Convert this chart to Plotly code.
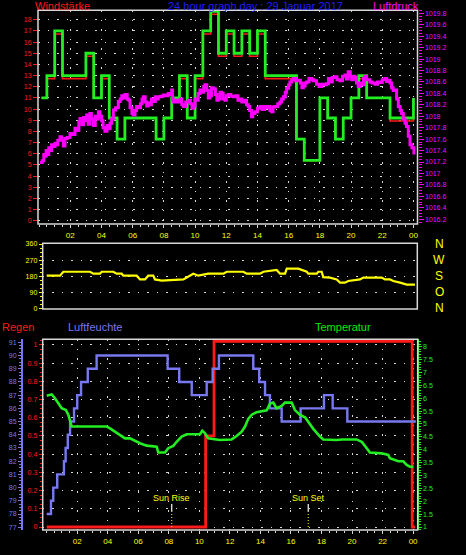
import plotly.graph_objects as go

W, H = 466, 555

# ---------------- data ----------------
# top panel: wind (Windstärke) half-hour steps, hours of day
wind_hours = [0.15, 0.5, 1.0, 1.5, 3.0, 3.5, 4.0, 4.5, 5.0, 5.5, 7.5, 8.0, 8.5, 9.0, 9.5,
              10.0, 10.5, 11.0, 11.5, 12.0, 12.5, 13.0, 13.5, 14.0, 14.5, 16.5, 17.0, 18.0,
              18.5, 19.0, 19.5, 20.0, 20.5, 21.0, 22.5, 24.0]
wind_gust = [11, 13, 17, 13, 15, 11, 13, 9.2, 7.3, 9.2, 7.3, 9.2, 11, 13, 9.2,
             13, 17, 18.75, 15, 17, 15, 17, 15, 17, 13, 7.3, 5.4, 11,
             9.2, 7.3, 9.2, 11, 13, 11, 9.2, 11]
wind_avg = [11, 12.73, 16.73, 12.73, 14.73, 11, 12.73, 9.2, 7.3, 9.2, 7.3, 9.2, 11, 12.73, 9.2,
            12.73, 16.73, 18.5, 14.73, 16.73, 14.73, 16.73, 14.73, 16.73, 12.73, 7.3, 5.4, 11,
            9.2, 7.3, 9.2, 11, 12.73, 11, 8.93, 11]

# top panel: pressure (Luftdruck, hPa)
press_hours = [0.06, 0.2, 0.3, 0.38, 0.45, 0.55, 0.62, 0.70, 0.8, 0.9, 1.02, 1.1, 1.2, 1.34, 1.45,
               1.55, 1.66, 1.8, 1.98, 2.1, 2.3, 2.45, 2.55, 2.62, 2.75, 2.85, 2.94, 3.05, 3.15,
               3.26, 3.35, 3.48, 3.6, 3.7, 3.80, 3.9, 4.01, 4.1, 4.22, 4.35, 4.45, 4.55, 4.65,
               4.76, 4.9, 5.08, 5.2, 5.3, 5.40, 5.5, 5.65, 5.75, 5.83, 5.95, 6.04, 6.15, 6.25,
               6.36, 6.5, 6.6, 6.68, 6.8, 6.9, 7.00, 7.1, 7.2, 7.32, 7.45, 7.55, 7.64, 7.8,
               7.96, 8.1, 8.28, 8.4, 8.50, 8.55, 8.60, 8.75, 8.92, 9.05, 9.15, 9.25, 9.4, 9.57,
               9.7, 9.80, 9.89, 10.0, 10.10, 10.2, 10.31, 10.45, 10.55, 10.63, 10.75, 10.85,
               10.95, 11.05, 11.17, 11.3, 11.40, 11.49, 11.6, 11.70, 11.8, 11.92, 12.0, 12.13,
               12.3, 12.45, 12.6, 12.75, 12.88, 13.0, 13.20, 13.30, 13.41, 13.5, 13.62, 13.7,
               13.84, 14.0, 14.16, 14.3, 14.45, 14.59, 14.7, 14.80, 14.91, 15.0, 15.12, 15.3,
               15.44, 15.55, 15.66, 15.78, 15.87, 16.0, 16.08, 16.2, 16.30, 16.45, 16.62, 16.75,
               16.85, 16.94, 17.05, 17.15, 17.3, 17.47, 17.6, 17.79, 17.95, 18.11, 18.3, 18.43,
               18.55, 18.65, 18.8, 18.97, 19.1, 19.29, 19.45, 19.61, 19.70, 19.82, 19.95, 20.04,
               20.15, 20.25, 20.35, 20.46, 20.58, 20.68, 20.8, 20.89, 21.0, 21.21, 21.35, 21.53,
               21.7, 21.85, 22.0, 22.17, 22.28, 22.39, 22.5, 22.60, 22.7, 22.81, 22.92, 23.03,
               23.15, 23.24, 23.35, 23.46, 23.55, 23.67, 23.78, 23.9, 24.03]
press_hpa = [1017.19, 1017.22, 1017.33, 1017.30, 1017.40, 1017.33, 1017.45, 1017.40, 1017.50, 1017.47,
             1017.53, 1017.50, 1017.58, 1017.64, 1017.58, 1017.48, 1017.61, 1017.63, 1017.70, 1017.68,
             1017.79, 1017.75, 1017.90, 1017.96, 1017.85, 1017.98, 1017.92, 1018.02, 1017.86, 1018.05,
             1017.95, 1017.84, 1018.00, 1017.95, 1018.08, 1018.00, 1017.92, 1017.80, 1017.74, 1017.84,
             1017.78, 1017.88, 1017.95, 1018.11, 1018.15, 1018.26, 1018.30, 1018.36, 1018.32, 1018.38,
             1018.30, 1018.28, 1018.15, 1018.05, 1018.02, 1018.10, 1018.17, 1018.15, 1018.22, 1018.30,
             1018.34, 1018.25, 1018.18, 1018.23, 1018.20, 1018.30, 1018.26, 1018.34, 1018.30, 1018.34,
             1018.35, 1018.37, 1018.36, 1018.40, 1018.38, 1018.46, 1018.30, 1018.25, 1018.28, 1018.25,
             1018.30, 1018.20, 1018.17, 1018.25, 1018.28, 1018.22, 1018.14, 1018.18, 1018.30, 1018.28,
             1018.40, 1018.46, 1018.42, 1018.52, 1018.55, 1018.45, 1018.32, 1018.36, 1018.50, 1018.48,
             1018.38, 1018.28, 1018.30, 1018.42, 1018.40, 1018.30, 1018.28, 1018.36, 1018.38, 1018.35,
             1018.34, 1018.36, 1018.28, 1018.30, 1018.25, 1018.28, 1018.20, 1018.17, 1018.10, 1017.99,
             1018.05, 1018.08, 1018.14, 1018.17, 1018.12, 1018.17, 1018.15, 1018.17, 1018.10, 1018.08,
             1018.16, 1018.17, 1018.22, 1018.25, 1018.30, 1018.34, 1018.42, 1018.49, 1018.55, 1018.60,
             1018.64, 1018.66, 1018.62, 1018.63, 1018.58, 1018.50, 1018.53, 1018.58, 1018.60, 1018.66,
             1018.64, 1018.62, 1018.56, 1018.52, 1018.56, 1018.55, 1018.57, 1018.66, 1018.60, 1018.68,
             1018.69, 1018.64, 1018.62, 1018.70, 1018.72, 1018.65, 1018.78, 1018.70, 1018.64, 1018.70,
             1018.68, 1018.58, 1018.52, 1018.58, 1018.55, 1018.66, 1018.70, 1018.64, 1018.60, 1018.58,
             1018.56, 1018.60, 1018.59, 1018.64, 1018.66, 1018.61, 1018.63, 1018.58, 1018.50, 1018.45,
             1018.46, 1018.30, 1018.17, 1018.10, 1018.05, 1017.95, 1017.88, 1017.82, 1017.65, 1017.50,
             1017.45, 1017.33]

# middle panel: wind direction (degrees)
dir_hours = [0.0, 0.87, 1.09, 2.84, 3.05, 3.49, 3.60, 4.36, 4.58, 4.91, 5.02, 5.89, 6.11, 6.44,
             6.65, 6.98, 7.09, 7.53, 8.95, 9.17, 9.60, 9.93, 10.58, 11.57, 11.79, 12.88, 13.10,
             13.97, 14.19, 15.06, 15.28, 15.61, 15.72, 16.48, 16.70, 17.03, 17.13, 17.68, 17.79,
             18.01, 18.11, 18.55, 18.99, 19.21, 19.53, 19.75, 20.52, 20.73, 21.94, 22.15, 22.48,
             22.70, 23.14, 23.58, 24.12]
dir_deg = [183, 183, 205, 205, 194, 194, 205, 205, 194, 194, 183, 183, 162, 162,
           183, 183, 162, 155, 162, 172, 194, 183, 194, 194, 205, 205, 194,
           194, 205, 215, 194, 194, 222, 222, 215, 205, 194, 194, 205,
           205, 175, 172, 162, 144, 144, 153, 162, 172, 172, 162, 162,
           153, 144, 133, 133]

# bottom panel: humidity (Luftfeuchte, %)
hum_hours = [0.0, 0.28, 0.43, 0.69, 1.13, 1.24, 1.38, 1.53, 1.79, 2.0, 2.25, 2.69, 3.27, 7.92,
             8.68, 9.50, 10.48, 10.87, 11.28, 13.53, 13.92, 14.30, 14.62, 15.39, 16.63, 18.16,
             18.73, 19.69, 24.18]
hum_pct = [78, 79, 80, 81, 82, 83, 84, 85, 86, 87, 88, 89, 90, 89,
           88, 87, 88, 89, 90, 89, 88, 87, 86, 85, 86, 87,
           86, 85, 85]

# bottom panel: rain (Regen, mm)
rain_hours = [0.0, 10.41, 10.96, 23.94, 24.12]
rain_mm = [0.0, 0.5, 1.02, 0.0, 0.0]

# bottom panel: temperature (°C)
temp_hours = [0.0, 0.33, 0.54, 0.76, 0.98, 1.26, 1.42, 1.64, 3.93, 4.15, 4.47, 4.80, 5.13, 5.46,
              5.78, 6.11, 6.55, 6.98, 7.20, 7.31, 7.75, 7.96, 8.29, 8.51, 8.84, 9.17, 9.60, 10.04,
              10.19, 10.37, 10.58, 11.35, 12.11, 12.44, 12.77, 12.99, 13.20, 13.43, 13.75, 14.41,
              14.62, 14.84, 15.06, 15.39, 15.61, 16.04, 16.26, 16.59, 16.92, 17.13, 17.46, 17.90,
              18.11, 18.99, 19.32, 20.30, 20.63, 20.84, 21.17, 21.94, 22.37, 22.48, 22.81, 23.03,
              23.35, 23.58, 23.79, 24.01]
temp_c = [6.10, 6.15, 6.0, 5.80, 5.61, 5.54, 5.35, 4.90, 4.90, 4.83, 4.70, 4.57, 4.44, 4.44,
          4.34, 4.25, 4.16, 4.12, 4.12, 3.89, 3.89, 4.06, 4.15, 4.31, 4.51, 4.60, 4.60, 4.60,
          4.74, 4.64, 4.44, 4.38, 4.40, 4.53, 4.70, 4.90, 5.20, 5.36, 5.46, 5.53,
          5.79, 5.83, 5.61, 5.70, 5.83, 5.83, 5.54, 5.35, 5.26, 5.07, 4.81, 4.51,
          4.40, 4.38, 4.40, 4.40, 4.31, 4.15, 3.89, 3.86, 3.80, 3.67, 3.61, 3.55,
          3.55, 3.41, 3.34, 3.34]

sun_events = ["Sun Rise", "Sun Set"]
sun_hours = [8.19, 17.13]

# tick labels
hour_ticks = [2, 4, 6, 8, 10, 12, 14, 16, 18, 20, 22, 24]
hour_labels = ["02", "04", "06", "08", "10", "12", "14", "16", "18", "20", "22", "00"]
wind_ticks = list(range(0, 19))
press_ticks = [round(1016.2 + 0.2 * i, 1) for i in range(19)]
dir_ticks = [0, 90, 180, 270, 360]
dir_letters = ["N", "O", "S", "W", "N"]
rain_ticks = [round(0.1 * i, 1) for i in range(11)]
hum_ticks = list(range(77, 92))
temp_ticks = [1 + 0.5 * i for i in range(15)]

# ---------------- layout helpers ----------------
def fx(px):
    return px / W

def fy(py):
    return 1 - py / H

FONT = "Liberation Sans, Arial, sans-serif"
RED = "#ff1a1a"
GREEN = "#22ee22"
MAG = "#ff00ff"
YEL = "#ffff00"
BLUE = "#7878f0"
TITLEBLUE = "#1f1fff"
GRID = "#d8d8d8"
DOTS = "1.5px,8px"

fig = go.Figure()

# top panel (red average underneath, green gust on top, pressure above all)
fig.add_trace(go.Scatter(x=wind_hours, y=wind_avg, xaxis="x", yaxis="y", mode="lines",
                         line=dict(color=RED, width=1.6, shape="hv"), hoverinfo="skip"))
fig.add_trace(go.Scatter(x=wind_hours, y=wind_gust, xaxis="x", yaxis="y2", mode="lines",
                         line=dict(color=GREEN, width=2.8, shape="hv"), hoverinfo="skip"))
fig.add_trace(go.Scatter(x=press_hours, y=press_hpa, xaxis="x", yaxis="y3", mode="lines",
                         line=dict(color=MAG, width=3, shape="hv"), hoverinfo="skip"))
# middle panel
fig.add_trace(go.Scatter(x=dir_hours, y=dir_deg, xaxis="x2", yaxis="y4", mode="lines",
                         line=dict(color=YEL, width=2.2), hoverinfo="skip"))
# bottom panel
fig.add_trace(go.Scatter(x=hum_hours, y=hum_pct, xaxis="x3", yaxis="y6", mode="lines",
                         line=dict(color=BLUE, width=2.4, shape="hv"), hoverinfo="skip"))
fig.add_trace(go.Scatter(x=temp_hours, y=temp_c, xaxis="x3", yaxis="y7", mode="lines",
                         line=dict(color=GREEN, width=2.6), hoverinfo="skip"))
fig.add_trace(go.Scatter(x=rain_hours, y=rain_mm, xaxis="x3", yaxis="y5", mode="lines",
                         line=dict(color=RED, width=2.8, shape="hv"), hoverinfo="skip"))

top_dom = [fy(224), fy(10.3)]
mid_dom = [fy(309), fy(243.3)]
bot_dom = [fy(530), fy(339.3)]

wind_rng = [-0.295, 18.85]
layout = dict(
    width=W, height=H, autosize=False, template="none",
    paper_bgcolor="black", plot_bgcolor="black",
    margin=dict(l=0, r=0, t=0, b=0), showlegend=False,
    font=dict(family=FONT, color=YEL, size=8),
    xaxis=dict(domain=[fx(38), fx(417.5)], range=[-0.07, 24.26], anchor="y",
               tickvals=hour_ticks, ticktext=hour_labels, ticks="outside", ticklen=3,
               tickcolor=GRID, tickfont=dict(color=YEL, size=8), showgrid=True,
               gridcolor=GRID, griddash=DOTS, gridwidth=1, zeroline=False,
               minor=dict(ticks="outside", ticklen=2, tickcolor=GRID, dtick=0.5, showgrid=False)),
    yaxis=dict(domain=top_dom, range=wind_rng, anchor="x", tickvals=wind_ticks,
               ticks="outside", ticklen=4, tickcolor=RED, tickfont=dict(color=RED, size=7),
               showgrid=True, gridcolor=GRID, griddash=DOTS, gridwidth=1, zeroline=False),
    yaxis2=dict(overlaying="y", anchor="x", range=wind_rng, visible=False),
    yaxis3=dict(overlaying="y", side="right", anchor="x", range=[1016.116, 1019.853],
                tickvals=press_ticks, ticktext=[f"{v:g}" for v in press_ticks],
                ticks="outside", ticklen=5, tickcolor=MAG, tickfont=dict(color=MAG, size=7),
                showgrid=False, zeroline=False,
                minor=dict(ticks="outside", ticklen=3, tickcolor=MAG, dtick=0.05, showgrid=False)),
    xaxis2=dict(domain=[fx(42.7), fx(417.3)], range=[-0.262, 24.27], anchor="y4",
                showticklabels=False, ticks="", showgrid=False, zeroline=False),
    yaxis4=dict(domain=mid_dom, range=[-3.4, 364], anchor="x2", tickvals=dir_ticks,
                ticks="outside", ticklen=3, tickcolor=YEL, tickfont=dict(color=YEL, size=7),
                showgrid=True, gridcolor=GRID, griddash=DOTS, gridwidth=1, zeroline=False,
                minor=dict(ticks="outside", ticklen=2, tickcolor=YEL, dtick=22.5, showgrid=False)),
    xaxis3=dict(domain=[fx(42.7), fx(417.7)], range=[-0.262, 24.30], anchor="y5",
                tickvals=hour_ticks, ticktext=hour_labels, ticks="outside", ticklen=3,
                tickcolor=GRID, tickfont=dict(color=YEL, size=8), showgrid=True,
                gridcolor=GRID, griddash=DOTS, gridwidth=1, zeroline=False,
                minor=dict(ticks="outside", ticklen=2, tickcolor=GRID, dtick=0.5, showgrid=False)),
    yaxis5=dict(domain=bot_dom, range=[-0.0165, 1.031], anchor="x3", tickvals=rain_ticks,
                ticktext=[f"{v:g}" for v in rain_ticks],
                ticks="outside", ticklen=3, tickcolor=RED, tickfont=dict(color=RED, size=7),
                showgrid=True, gridcolor=GRID, griddash=DOTS, gridwidth=1, zeroline=False,
                minor=dict(ticks="outside", ticklen=1.5, tickcolor=RED, dtick=0.025, showgrid=False)),
    yaxis6=dict(overlaying="y5", anchor="free", position=fx(21.7), side="left",
                range=[76.79, 91.227], tickvals=hum_ticks, ticks="outside", ticklen=3,
                tickcolor=BLUE, tickfont=dict(color=BLUE, size=7), showline=True,
                linecolor=BLUE, linewidth=1.5, showgrid=False, zeroline=False,
                minor=dict(ticks="outside", ticklen=2, tickcolor=BLUE, dtick=0.25, showgrid=False)),
    yaxis7=dict(overlaying="y5", anchor="x3", side="right", range=[0.884, 8.287],
                tickvals=temp_ticks, ticktext=[f"{v:g}" for v in temp_ticks],
                ticks="outside", ticklen=3, tickcolor=GREEN, tickfont=dict(color=GREEN, size=7),
                showline=True, linecolor=GREEN, linewidth=1, showgrid=False, zeroline=False,
                minor=dict(ticks="outside", ticklen=2, tickcolor=GREEN, dtick=0.1, showgrid=False)),
)
fig.update_layout(**layout)

# panel borders
shapes = []
for (x0, x1, y0, y1) in [(38, 417.5, 10.3, 224), (42.7, 417.3, 243.3, 309), (42.7, 417.7, 339.3, 530)]:
    shapes.append(dict(type="rect", xref="paper", yref="paper", x0=fx(x0), x1=fx(x1),
                       y0=fy(y1), y1=fy(y0), line=dict(color=GRID, width=1.5), layer="above"))
# sunrise / sunset markers
for h in sun_hours:
    shapes.append(dict(type="line", xref="x3", yref="y5", x0=h, x1=h, y0=0.084, y1=0.126,
                       line=dict(color="white", width=1.2)))
    shapes.append(dict(type="line", xref="x3", yref="y5", x0=h, x1=h, y0=0.0, y1=0.084,
                       line=dict(color=YEL, width=1, dash="1px,2px")))
fig.update_layout(shapes=shapes)

ann = []
def txt(t, x, y, color, size=11, xanchor="left", xref="paper", yref="paper"):
    ann.append(dict(text=t, x=x, y=y, xref=xref, yref=yref, showarrow=False,
                    xanchor=xanchor, yanchor="middle",
                    font=dict(family=FONT, color=color, size=size)))

txt("Windstärke", fx(33), fy(6), RED)
txt("24 hour graph day : 29 Januar 2017", fx(255.5), fy(6), TITLEBLUE, xanchor="center")
txt("Luftdruck", fx(371), fy(6), MAG)
txt("Regen", fx(0), fy(327), RED)
txt("Luftfeuchte", fx(66), fy(327), BLUE)
txt("Temperatur", fx(313), fy(327), "#00ee00")
for v, l in zip(dir_ticks, dir_letters):
    txt(l, fx(439), v, YEL, size=12, xanchor="center", yref="y4")
for name, h in zip(sun_events, sun_hours):
    txt(name, h, fy(498), YEL, size=9, xanchor="center", xref="x3")
fig.update_layout(annotations=ann)

fig.write_html("out.html", config={"displayModeBar": False},
               post_script="document.body.style.margin='0';")
